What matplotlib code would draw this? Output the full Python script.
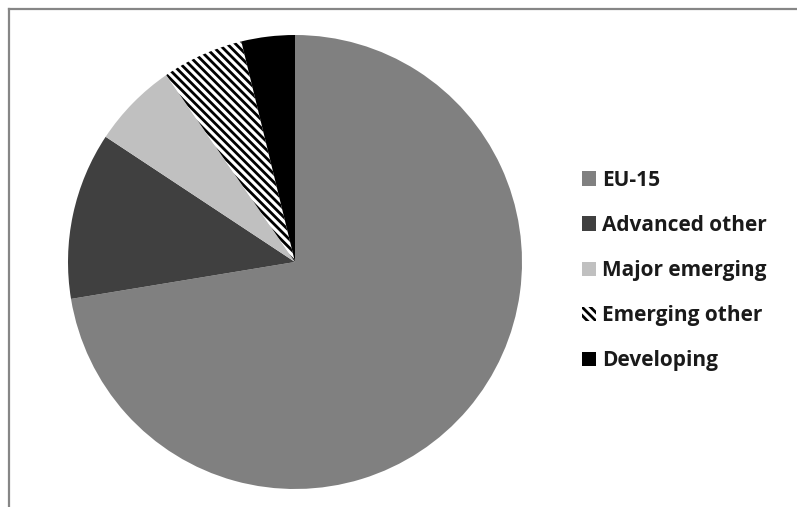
import matplotlib
matplotlib.use("Agg")
import matplotlib.pyplot as plt
from matplotlib.lines import Line2D

# ----------------
# Data
# ----------------
labels = ["EU-15", "Advanced other", "Major emerging", "Emerging other", "Developing"]
shares = [72.4, 11.9, 6.1, 5.8, 3.8]
colors = ["#808080", "#404040", "#c0c0c0", "white", "black"]
hatches = [None, None, None, "\\\\\\\\", None]

plt.rcParams["hatch.linewidth"] = 2.0

# ----------------
# Figure
# ----------------
W, H = 797, 507
fig = plt.figure(figsize=(W / 100, H / 100), dpi=100)

# pie centre (295, 262) px, radius 227 px
cx, cy, r = 295, 262, 227
ax = fig.add_axes([(cx - r) / W, (H - cy - r) / H, 2 * r / W, 2 * r / H])

wedges, _ = ax.pie(shares, colors=colors, startangle=90, counterclock=False,
                   wedgeprops=dict(linewidth=0))
for w, h in zip(wedges, hatches):
    if h:
        w.set_hatch(h)
        w.set_edgecolor("black")
        w.set_linewidth(0)

ax.set_xlim(-1, 1)
ax.set_ylim(-1, 1)
ax.set_aspect("equal")
ax.axis("off")

# ----------------
# Legend
# ----------------
leg = fig.legend(wedges, labels, loc="upper left",
                 bbox_to_anchor=(563 / W, 1 - 151 / H),
                 frameon=False, handlelength=0.68, handleheight=0.68,
                 handletextpad=0.3, labelspacing=1.16,
                 prop=dict(family="Open Sans", weight="bold", size=15))
for t in leg.get_texts():
    t.set_color("#1a1a1a")

# ----------------
# Chart border (top and left only)
# ----------------
y_top = 1 - 9 / H
x_left = 9 / W
fig.add_artist(Line2D([x_left, 1], [y_top, y_top], color="#868686", linewidth=1.6))
fig.add_artist(Line2D([x_left, x_left], [0, y_top], color="#868686", linewidth=1.6))

fig.savefig("out.png", dpi=100)
